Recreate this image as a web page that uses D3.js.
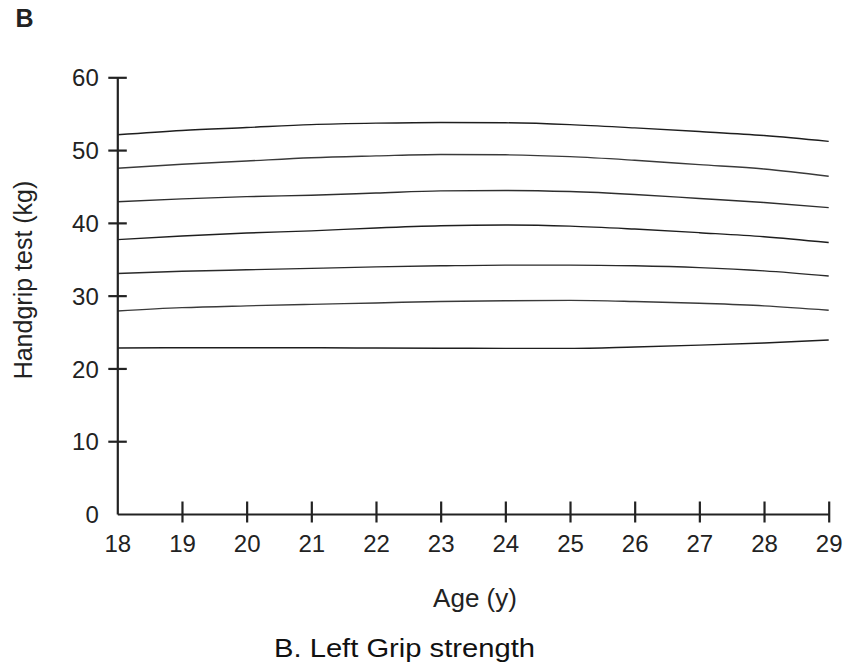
<!DOCTYPE html>
<html>
<head>
<meta charset="utf-8">
<script src="https://cdn.jsdelivr.net/npm/d3@7"></script>
<style>
  body { margin: 0; background: #fff; }
  svg { display: block; font-family: Arial, "Liberation Sans", Helvetica, sans-serif; }
</style>
</head>
<body>
<svg width="845" height="668"></svg>
<script>
// ages on the x axis
var ages = [18, 19, 20, 21, 22, 23, 24, 25, 26, 27, 28, 29];

// percentile curves, top to bottom (kg)
var curve1 = [52.1, 52.7, 53.1, 53.5, 53.7, 53.8, 53.75, 53.5, 53.05, 52.55, 52.0, 51.2];
var curve2 = [47.5, 48.05, 48.5, 48.95, 49.2, 49.4, 49.35, 49.1, 48.6, 48.0, 47.4, 46.4];
var curve3 = [42.9, 43.3, 43.6, 43.8, 44.1, 44.4, 44.45, 44.3, 43.9, 43.35, 42.8, 42.1];
var curve4 = [37.7, 38.2, 38.6, 38.9, 39.3, 39.6, 39.7, 39.55, 39.15, 38.65, 38.1, 37.3];
var curve5 = [33.05, 33.35, 33.55, 33.75, 33.95, 34.1, 34.2, 34.2, 34.1, 33.85, 33.4, 32.7];
var curve6 = [27.9, 28.35, 28.6, 28.8, 29.0, 29.2, 29.3, 29.35, 29.2, 28.95, 28.6, 28.0];
var curve7 = [22.8, 22.85, 22.85, 22.85, 22.8, 22.78, 22.75, 22.75, 22.95, 23.2, 23.5, 23.9];

var curves = [curve1, curve2, curve3, curve4, curve5, curve6, curve7];
var curve_colours = ["#1e1e1e", "#3a3a3a", "#2e2e2e", "#1e1e1e", "#2a2a2a", "#3a3a3a", "#1e1e1e"];

var y_ticks = [0, 10, 20, 30, 40, 50, 60];

var svg = d3.select("svg");

var x = d3.scaleLinear().domain([18, 29]).range([117.3, 828.7]);
var y = d3.scaleLinear().domain([0, 60]).range([514, 77.3]);

// panel letter
svg.append("text")
    .attr("x", 15.5)
    .attr("y", 27.3)
    .attr("font-size", 25)
    .attr("font-weight", "bold")
    .attr("fill", "#222")
    .text("B");

// curves
var line = d3.line()
    .x(function(d, i) { return x(ages[i]); })
    .y(function(d) { return y(d); })
    .curve(d3.curveMonotoneX);

svg.append("g")
    .selectAll("path")
    .data(curves)
    .enter().append("path")
      .attr("d", line)
      .attr("fill", "none")
      .attr("stroke", function(d, i) { return curve_colours[i]; })
      .attr("stroke-width", 1.4);

// x axis
var x_axis = svg.append("g")
    .attr("transform", "translate(0," + y(0) + ")")
    .call(d3.axisBottom(x).tickValues(ages).tickSize(0).tickSizeOuter(0).tickPadding(0));
x_axis.select(".domain").attr("stroke", "#222").attr("stroke-width", 2.2);
x_axis.selectAll(".tick line")
    .attr("y1", -12.5)
    .attr("y2", 8.5)
    .attr("stroke", "#222")
    .attr("stroke-width", 2.2)
    .filter(function(d) { return d === 18; }).remove();
x_axis.selectAll(".tick text")
    .attr("y", 38)
    .attr("dy", 0)
    .attr("font-size", 24)
    .attr("font-family", null)
    .attr("fill", "#222");

// y axis
var y_axis = svg.append("g")
    .attr("transform", "translate(" + x(18) + ",0)")
    .call(d3.axisLeft(y).tickValues(y_ticks).tickSize(0).tickSizeOuter(0).tickPadding(0));
y_axis.select(".domain").attr("stroke", "#222").attr("stroke-width", 2.2);
y_axis.selectAll(".tick line")
    .attr("x1", -9)
    .attr("x2", 9.5)
    .attr("stroke", "#222")
    .attr("stroke-width", 2.2)
    .filter(function(d) { return d === 0; }).remove();
y_axis.selectAll(".tick text")
    .attr("x", -18.5)
    .attr("dy", "0.36em")
    .attr("font-size", 24)
    .attr("font-family", null)
    .attr("fill", "#222");

// axis titles
svg.append("text")
    .attr("x", 475)
    .attr("y", 607)
    .attr("text-anchor", "middle")
    .attr("font-size", 26)
    .attr("fill", "#222")
    .text("Age (y)");

svg.append("text")
    .attr("transform", "translate(32,280) rotate(-90)")
    .attr("text-anchor", "middle")
    .attr("font-size", 25)
    .attr("fill", "#222")
    .text("Handgrip test (kg)");

// caption
svg.append("text")
    .attr("x", 274)
    .attr("y", 656.5)
    .attr("font-size", 25)
    .attr("textLength", 261)
    .attr("lengthAdjust", "spacingAndGlyphs")
    .attr("fill", "#111")
    .text("B. Left Grip strength");
</script>
</body>
</html>
